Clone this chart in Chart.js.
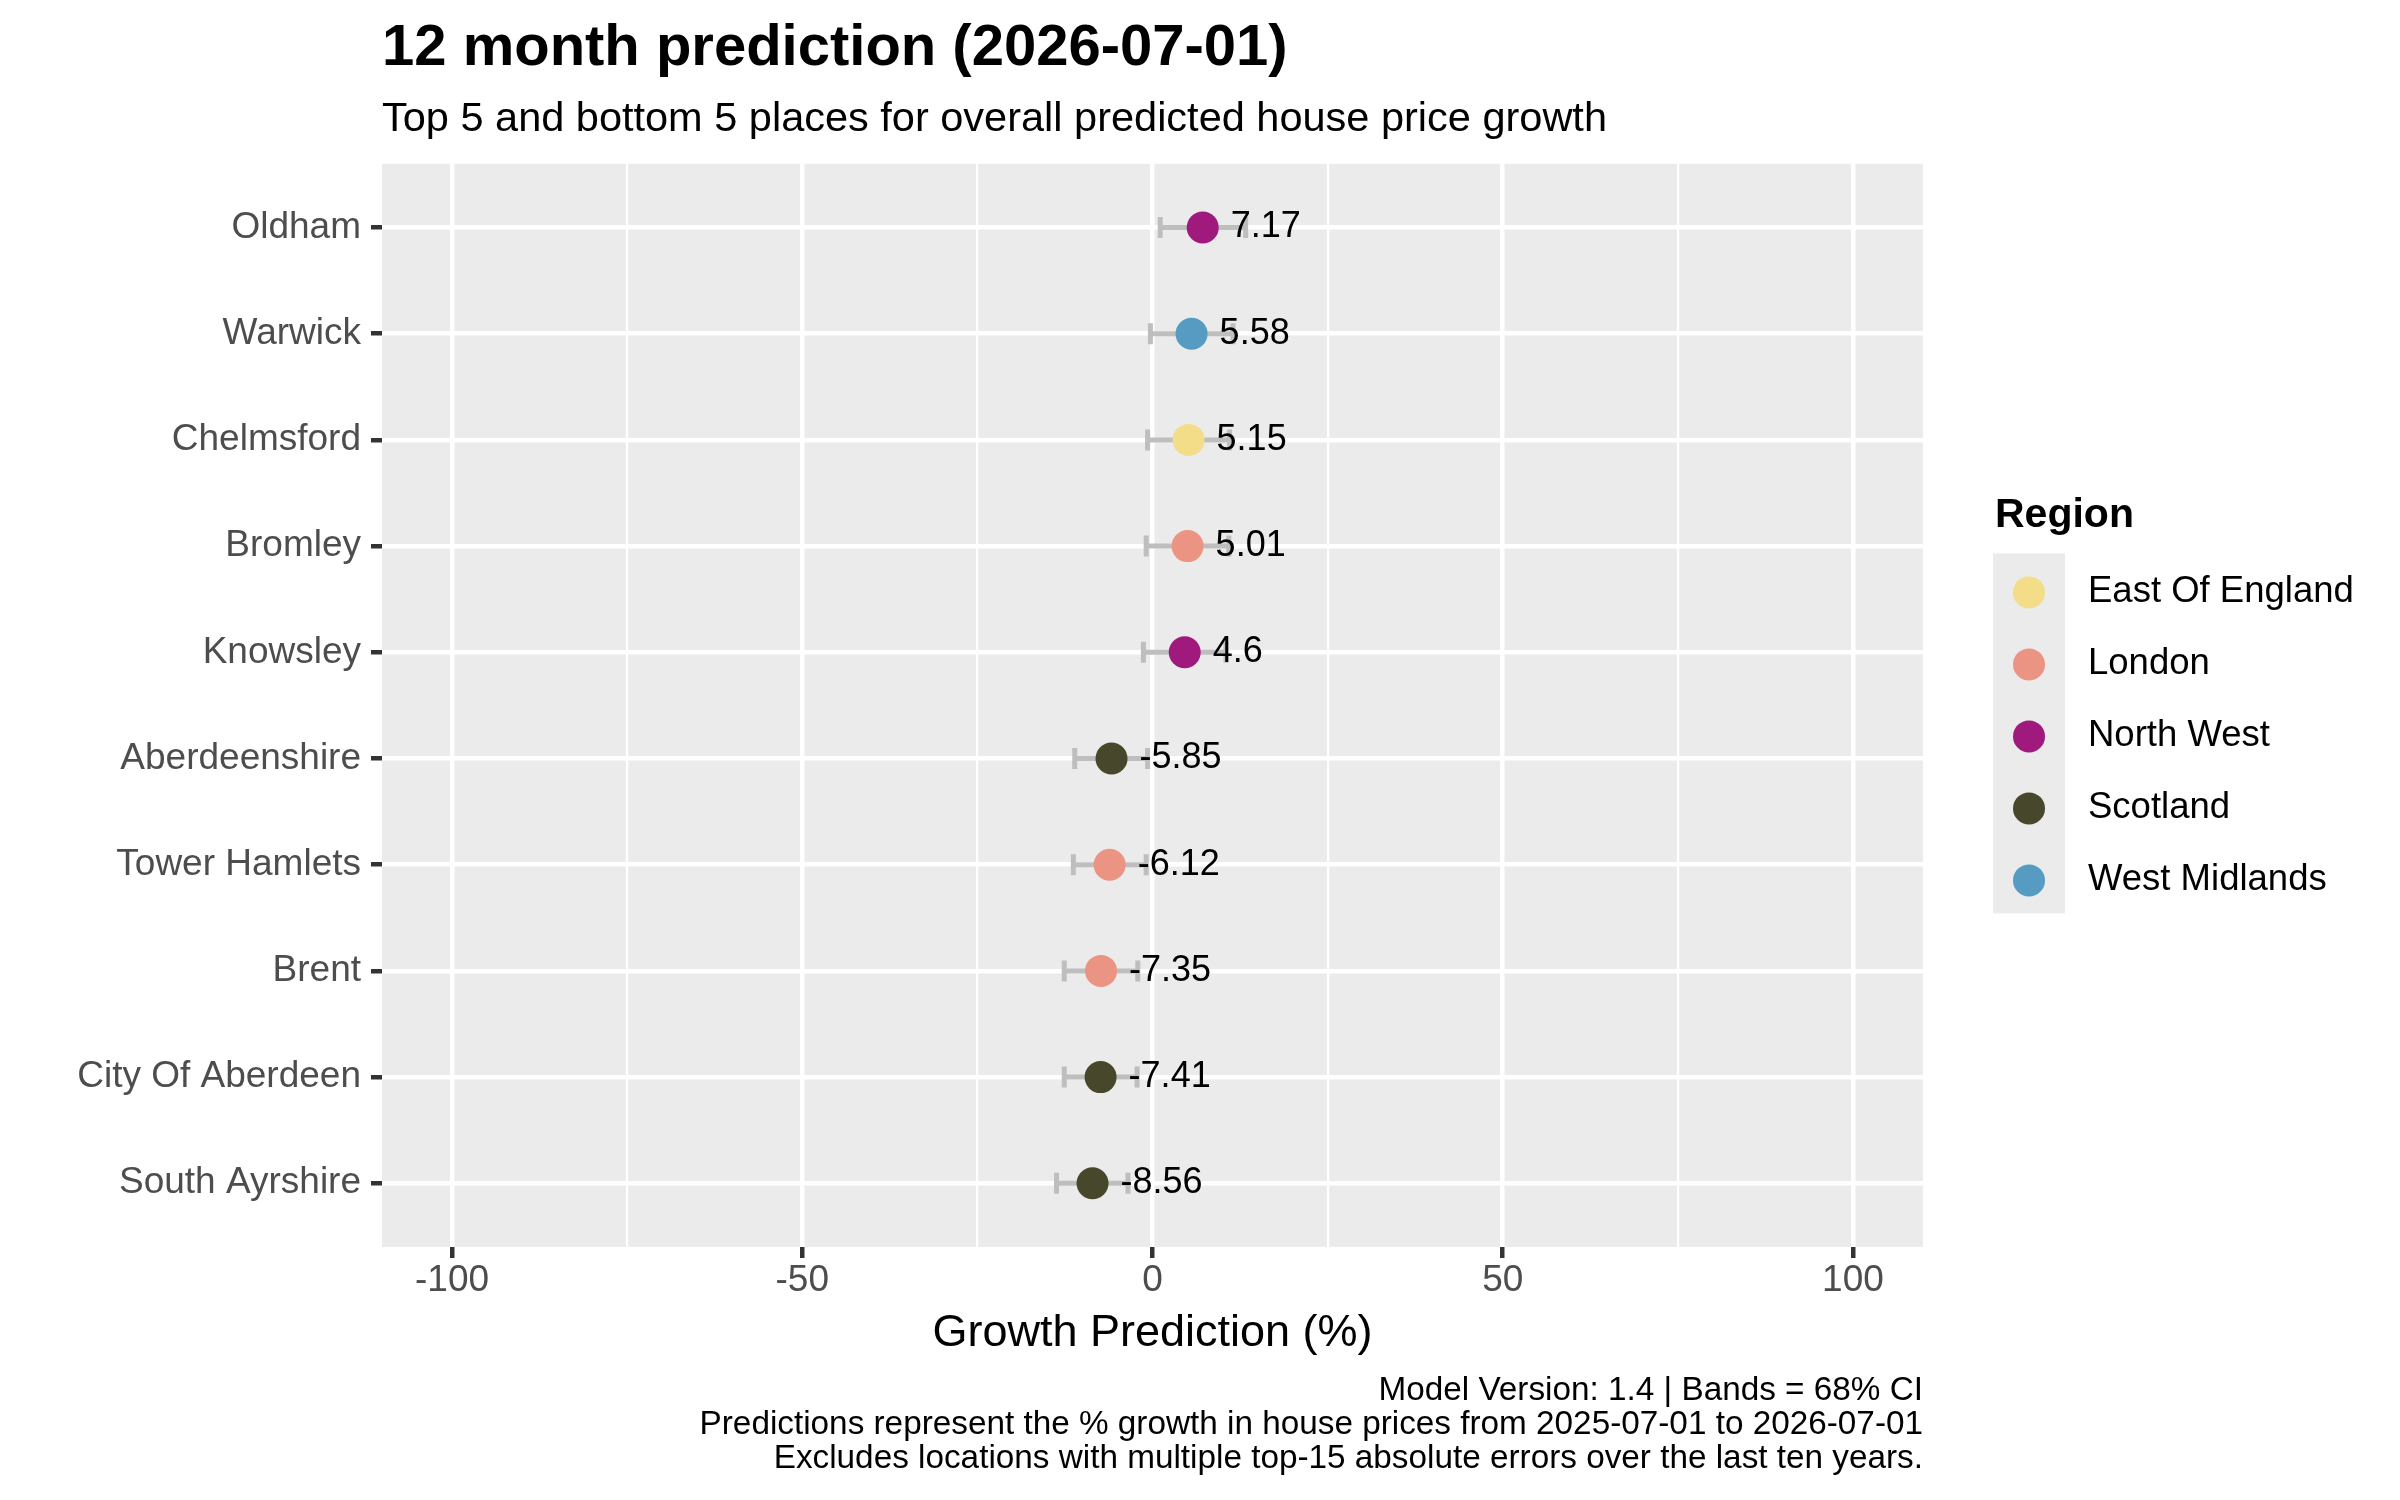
<!DOCTYPE html>
<html>
<head>
<meta charset="utf-8">
<title>12 month prediction</title>
<script src="https://cdn.jsdelivr.net/npm/chart.js@4.4.1/dist/chart.umd.min.js"></script>
<style>
  html, body { margin: 0; padding: 0; background: #fff; }
  canvas { display: block; }
</style>
</head>
<body>
<canvas id="chart" width="2400" height="1500"></canvas>
<script>
const places = ['Oldham', 'Warwick', 'Chelmsford', 'Bromley', 'Knowsley',
  'Aberdeenshire', 'Tower Hamlets', 'Brent', 'City Of Aberdeen', 'South Ayrshire'];
const growth = [7.17, 5.58, 5.15, 5.01, 4.6, -5.85, -6.12, -7.35, -7.41, -8.56];
const lower = [1.1, -0.3, -0.7, -0.9, -1.3, -11.1, -11.3, -12.6, -12.6, -13.7];
const upper = [13.3, 11.5, 11.0, 10.9, 10.5, -0.7, -0.9, -2.1, -2.2, -3.5];
const placeRegion = ['North West', 'West Midlands', 'East Of England', 'London', 'North West',
  'Scotland', 'London', 'London', 'Scotland', 'Scotland'];

const regionNames = ['East Of England', 'London', 'North West', 'Scotland', 'West Midlands'];
const regionColors = ['#F3DD89', '#EC9484', '#A01A7D', '#47472C', '#559BC2'];

const xMajorTicks = [-100, -50, 0, 50, 100];
const xMinorTicks = [-75, -25, 25, 75];

const titleText = '12 month prediction (2026-07-01)';
const subtitleText = 'Top 5 and bottom 5 places for overall predicted house price growth';
const xTitle = 'Growth Prediction (%)';
const legendTitle = 'Region';
const captionLines = [
  'Model Version: 1.4 | Bands = 68% CI',
  'Predictions represent the % growth in house prices from 2025-07-01 to 2026-07-01',
  'Excludes locations with multiple top-15 absolute errors over the last ten years.'
];

const labelNudge = 4;
const FONT = "'Liberation Sans', Arial, Helvetica, sans-serif";
const CI_GREY = '#BEBEBE';

Chart.defaults.font.family = FONT;

// one dataset per region so colours follow the legend
const pointSets = regionNames.map((name, k) => ({
  label: name,
  data: places.map((p, i) => ({ x: growth[i], y: i }))
    .filter(d => placeRegion[d.y] === name),
  backgroundColor: regionColors[k],
  borderWidth: 0,
  pointRadius: 16,
  pointHoverRadius: 16,
  order: 0
}));

// error bar per place: line between bounds, vertical caps at the ends
const ciSets = places.map((p, i) => ({
  label: 'ci ' + p,
  data: [{ x: lower[i], y: i }, { x: upper[i], y: i }],
  showLine: true,
  borderColor: CI_GREY,
  borderWidth: 5,
  pointStyle: 'line',
  pointRadius: 10.5,
  pointHoverRadius: 10.5,
  pointRotation: 90,
  pointBorderColor: CI_GREY,
  pointBorderWidth: 5,
  order: 1
}));

const panelBackground = {
  id: 'panelBackground',
  beforeDraw(chart) {
    const { ctx, chartArea } = chart;
    ctx.save();
    ctx.fillStyle = '#EBEBEB';
    ctx.fillRect(chartArea.left, chartArea.top, chartArea.right - chartArea.left, chartArea.bottom - chartArea.top);
    ctx.restore();
  }
};

const valueLabels = {
  id: 'valueLabels',
  afterDatasetsDraw(chart) {
    const { ctx } = chart;
    const xs = chart.scales.x, ys = chart.scales.y;
    ctx.save();
    ctx.font = '36px ' + FONT;
    ctx.fillStyle = '#000';
    ctx.textAlign = 'left';
    ctx.textBaseline = 'middle';
    growth.forEach((v, i) => {
      ctx.fillText(String(v), xs.getPixelForValue(v + labelNudge), ys.getPixelForValue(i));
    });
    ctx.restore();
  }
};

const regionLegend = {
  id: 'regionLegend',
  afterDraw(chart) {
    const { ctx, chartArea } = chart;
    const keySize = 72;
    const left = chartArea.right + 70;
    const mid = (chartArea.top + chartArea.bottom) / 2;
    const keyTop = mid + 28 - keySize * regionNames.length / 2;
    ctx.save();
    ctx.fillStyle = '#000';
    ctx.font = 'bold 41px ' + FONT;
    ctx.textAlign = 'left';
    ctx.textBaseline = 'alphabetic';
    ctx.fillText(legendTitle, left + 2, keyTop - 26);

    ctx.fillStyle = '#EBEBEB';
    ctx.fillRect(left, keyTop, keySize, keySize * regionNames.length);

    ctx.font = '36.5px ' + FONT;
    ctx.textBaseline = 'middle';
    pointSets.forEach((ds, k) => {
      const cy = keyTop + keySize / 2 + k * keySize + 3;
      ctx.beginPath();
      ctx.arc(left + keySize / 2, cy, 16, 0, Math.PI * 2);
      ctx.fillStyle = ds.backgroundColor;
      ctx.fill();
      ctx.fillStyle = '#000';
      ctx.fillText(ds.label, left + 95, cy);
    });
    ctx.restore();
  }
};

const caption = {
  id: 'caption',
  afterDraw(chart) {
    const { ctx, chartArea } = chart;
    const xs = chart.scales.x;
    ctx.save();
    ctx.font = '33.3px ' + FONT;
    ctx.fillStyle = '#000';
    ctx.textAlign = 'right';
    ctx.textBaseline = 'alphabetic';
    captionLines.forEach((t, k) => {
      ctx.fillText(t, chartArea.right, xs.bottom + 37 + k * 34);
    });
    ctx.restore();
  }
};

new Chart(document.getElementById('chart'), {
  type: 'scatter',
  data: { datasets: pointSets.concat(ciSets) },
  options: {
    responsive: false,
    devicePixelRatio: 1,
    animation: false,
    events: [],
    layout: { padding: { left: 0, right: 477, top: 0, bottom: 137 } },
    scales: {
      x: {
        type: 'linear',
        min: -110,
        max: 110,
        afterBuildTicks: s => {
          s.ticks = xMajorTicks.concat(xMinorTicks).sort((a, b) => a - b).map(v => ({ value: v }));
        },
        ticks: {
          autoSkip: false,
          maxRotation: 0,
          padding: 1,
          color: '#4D4D4D',
          font: { size: 37 },
          callback: v => xMajorTicks.includes(v) ? String(v) : ''
        },
        grid: {
          color: '#FFFFFF',
          lineWidth: c => xMajorTicks.includes(c.tick.value) ? 4.5 : 2.2,
          tickLength: 11,
          tickWidth: 4.5,
          tickColor: c => xMajorTicks.includes(c.tick.value) ? '#333333' : 'rgba(0,0,0,0)'
        },
        border: { display: false },
        title: {
          display: true,
          text: xTitle,
          color: '#000',
          font: { size: 45 },
          padding: { top: 2.6, bottom: 2 }
        }
      },
      y: {
        type: 'linear',
        reverse: true,
        min: -0.6,
        max: 9.6,
        afterBuildTicks: s => {
          s.ticks = places.map((p, i) => ({ value: i }));
        },
        afterFit: s => { s.width = 382; },
        ticks: {
          autoSkip: false,
          padding: 10,
          color: '#4D4D4D',
          font: { size: 37 },
          callback: v => places[v]
        },
        grid: {
          color: '#FFFFFF',
          lineWidth: 4.5,
          tickLength: 11,
          tickWidth: 4.5,
          tickColor: '#333333'
        },
        border: { display: false }
      }
    },
    plugins: {
      legend: { display: false },
      tooltip: { enabled: false },
      title: {
        display: true,
        text: titleText,
        align: 'start',
        fullSize: false,
        color: '#000',
        font: { size: 58, weight: 'bold' },
        padding: { top: 14.6, bottom: 0 }
      },
      subtitle: {
        display: true,
        text: subtitleText,
        align: 'start',
        fullSize: false,
        color: '#000',
        font: { size: 41.5 },
        padding: { top: 10.7, bottom: 19.1 }
      }
    }
  },
  plugins: [panelBackground, valueLabels, regionLegend, caption]
});
</script>
</body>
</html>
